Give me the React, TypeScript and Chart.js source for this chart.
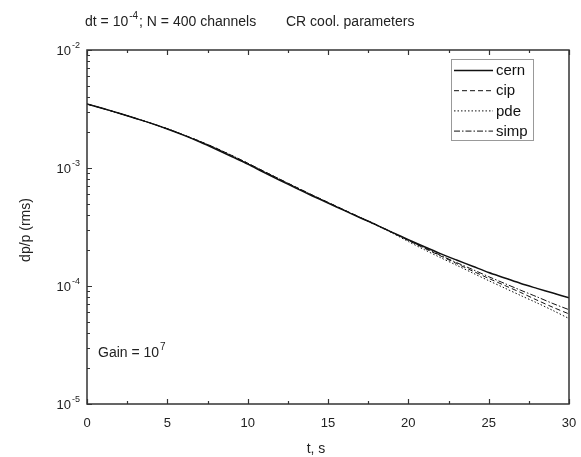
import React, { useEffect, useRef } from 'react';
import { Chart, registerables } from 'chart.js';

Chart.register(...registerables);

const times = [0, 1, 2, 3, 4, 5, 6, 7, 8, 9, 10, 11, 12, 13, 14, 15, 16, 17, 18, 19, 20, 21, 22, 23, 24, 25, 26, 27, 28, 29, 30];
const cern = [3.48e-3, 3.19e-3, 2.91e-3, 2.64e-3, 2.39e-3, 2.14e-3, 1.90e-3, 1.67e-3, 1.45e-3, 1.25e-3, 1.08e-3, 9.20e-4, 7.87e-4, 6.76e-4, 5.82e-4, 5.04e-4, 4.37e-4, 3.79e-4, 3.30e-4, 2.85e-4, 2.47e-4, 2.15e-4, 1.88e-4, 1.66e-4, 1.47e-4, 1.30e-4, 1.17e-4, 1.05e-4, 9.55e-5, 8.71e-5, 7.94e-5];
const cip = [3.48e-3, 3.19e-3, 2.91e-3, 2.64e-3, 2.39e-3, 2.15e-3, 1.91e-3, 1.69e-3, 1.48e-3, 1.28e-3, 1.10e-3, 9.40e-4, 8.05e-4, 6.90e-4, 5.93e-4, 5.12e-4, 4.42e-4, 3.82e-4, 3.30e-4, 2.84e-4, 2.43e-4, 2.09e-4, 1.80e-4, 1.55e-4, 1.34e-4, 1.16e-4, 1.01e-4, 8.8e-5, 7.6e-5, 6.6e-5, 5.8e-5];
const pde = [3.48e-3, 3.19e-3, 2.91e-3, 2.64e-3, 2.39e-3, 2.15e-3, 1.91e-3, 1.69e-3, 1.48e-3, 1.28e-3, 1.10e-3, 9.38e-4, 8.03e-4, 6.88e-4, 5.91e-4, 5.10e-4, 4.40e-4, 3.80e-4, 3.28e-4, 2.81e-4, 2.38e-4, 2.03e-4, 1.74e-4, 1.50e-4, 1.29e-4, 1.11e-4, 9.6e-5, 8.3e-5, 7.2e-5, 6.2e-5, 5.3e-5];
const simp = [3.48e-3, 3.19e-3, 2.91e-3, 2.64e-3, 2.39e-3, 2.15e-3, 1.91e-3, 1.68e-3, 1.47e-3, 1.27e-3, 1.09e-3, 9.35e-4, 8.0e-4, 6.86e-4, 5.9e-4, 5.1e-4, 4.4e-4, 3.81e-4, 3.30e-4, 2.85e-4, 2.44e-4, 2.11e-4, 1.82e-4, 1.58e-4, 1.38e-4, 1.20e-4, 1.05e-4, 9.2e-5, 8.1e-5, 7.1e-5, 6.3e-5];

const seriesNames = ['cern', 'cip', 'pde', 'simp'];
const xMajorTicks = [0, 5, 10, 15, 20, 25, 30];
const xMinorTicks = [2.5, 7.5, 12.5, 17.5, 22.5, 27.5];
const yDecadeExponents = [-2, -3, -4, -5];
const titleParts = { base: 'dt = 10', sup: '-4', rest: '; N = 400 channels' };
const titleRight = 'CR cool. parameters';
const gainParts = { base: 'Gain = 10', sup: '7' };
const yAxisTitle = 'dp/p (rms)';
const xAxisTitle = 't, s';

const FONT = '"Liberation Sans", Arial, sans-serif';
const INK = '#222';

const dashes: Record<string, number[]> = {
  cern: [],
  cip: [5, 3],
  pde: [1.5, 2],
  simp: [6, 2, 1.5, 2],
};
const widths: Record<string, number> = { cern: 1.5, cip: 1, pde: 1, simp: 1 };

function drawSup(ctx: CanvasRenderingContext2D, x: number, y: number, base: string, sup: string, size: number, align: 'left' | 'right') {
  ctx.textBaseline = 'middle';
  const ss = Math.round(size * 0.68);
  ctx.font = `${size}px ${FONT}`;
  const wb = ctx.measureText(base).width;
  ctx.font = `${ss}px ${FONT}`;
  const ws = ctx.measureText(sup).width;
  const x0 = align === 'left' ? x : x - wb - ws - 1;
  ctx.textAlign = 'left';
  ctx.font = `${size}px ${FONT}`;
  ctx.fillText(base, x0, y);
  ctx.font = `${ss}px ${FONT}`;
  ctx.fillText(sup, x0 + wb + 1, y - size * 0.42);
  return x0 + wb + 1 + ws;
}

const decorPlugin = {
  id: 'decor',
  afterDraw(chart: any) {
    const ctx = chart.ctx as CanvasRenderingContext2D;
    const { left, right, top, bottom } = chart.chartArea;
    const xs = chart.scales.x;
    const ys = chart.scales.y;
    const yMax = ys.max;
    ctx.save();
    ctx.strokeStyle = '#333';
    ctx.lineWidth = 1.5;
    ctx.setLineDash([]);
    ctx.strokeRect(left, top, right - left, bottom - top);
    ctx.lineWidth = 1.2;
    ctx.beginPath();
    for (const v of xMajorTicks) {
      const px = Math.round(xs.getPixelForValue(v)) + 0.5;
      ctx.moveTo(px, bottom); ctx.lineTo(px, bottom - 5);
      ctx.moveTo(px, top); ctx.lineTo(px, top + 5);
    }
    for (const v of xMinorTicks) {
      const px = Math.round(xs.getPixelForValue(v)) + 0.5;
      ctx.moveTo(px, bottom); ctx.lineTo(px, bottom - 3);
      ctx.moveTo(px, top); ctx.lineTo(px, top + 3);
    }
    for (const e of yDecadeExponents) {
      const py = Math.round(ys.getPixelForValue(Math.pow(10, e))) + 0.5;
      ctx.moveTo(left, py); ctx.lineTo(left + 5, py);
      for (let m = 2; m <= 9; m++) {
        const val = m * Math.pow(10, e);
        if (val >= yMax) continue;
        const pm = Math.round(ys.getPixelForValue(val)) + 0.5;
        ctx.moveTo(left, pm); ctx.lineTo(left + 3, pm);
      }
    }
    ctx.stroke();

    ctx.fillStyle = INK;
    for (const e of yDecadeExponents) {
      const py = ys.getPixelForValue(Math.pow(10, e));
      drawSup(ctx, left - 7, py + 1, '10', String(e), 13, 'right');
    }
    ctx.font = `13px ${FONT}`;
    ctx.textAlign = 'center';
    ctx.textBaseline = 'middle';
    for (const v of xMajorTicks) {
      ctx.fillText(String(v), xs.getPixelForValue(v), bottom + 19);
    }
    ctx.font = `14px ${FONT}`;
    ctx.fillText(xAxisTitle, 316, 449);
    ctx.save();
    ctx.translate(26, 230);
    ctx.rotate(-Math.PI / 2);
    ctx.fillText(yAxisTitle, 0, 0);
    ctx.restore();

    const endX = drawSup(ctx, 85, 22, titleParts.base, titleParts.sup, 14, 'left');
    ctx.font = `14px ${FONT}`;
    ctx.textAlign = 'left';
    ctx.fillText(titleParts.rest, endX + 1, 22);
    ctx.fillText(titleRight, 286, 22);

    drawSup(ctx, 98, 353, gainParts.base, gainParts.sup, 14, 'left');

    const lx = 451.5, ly = 59.5, lw = 82, lh = 81;
    ctx.fillStyle = '#fff';
    ctx.fillRect(lx, ly, lw, lh);
    ctx.strokeStyle = '#999';
    ctx.lineWidth = 1;
    ctx.strokeRect(lx, ly, lw, lh);
    seriesNames.forEach((name, i) => {
      const y = 70.5 + i * 20.2;
      ctx.strokeStyle = '#111';
      ctx.lineWidth = widths[name];
      ctx.setLineDash(dashes[name]);
      ctx.beginPath();
      ctx.moveTo(454, y);
      ctx.lineTo(493, y);
      ctx.stroke();
      ctx.setLineDash([]);
      ctx.fillStyle = '#111';
      ctx.font = `15px ${FONT}`;
      ctx.textAlign = 'left';
      ctx.textBaseline = 'middle';
      ctx.fillText(name, 496, y + 0.5);
    });
    ctx.restore();
  },
};

export default function App() {
  const ref = useRef<HTMLCanvasElement | null>(null);
  useEffect(() => {
    document.body.style.margin = '0';
    const seriesData: Record<string, number[]> = { cern, cip, pde, simp };
    const chart = new Chart(ref.current as HTMLCanvasElement, {
      type: 'line',
      data: {
        datasets: seriesNames.map((name) => ({
          label: name,
          data: times.map((t, i) => ({ x: t, y: seriesData[name][i] })),
          borderColor: '#111',
          borderWidth: widths[name],
          borderDash: dashes[name],
          pointRadius: 0,
          tension: 0.3,
          fill: false,
        })),
      },
      options: {
        animation: false,
        responsive: false,
        devicePixelRatio: 1,
        layout: { padding: { top: 50, right: 12, left: 0, bottom: 0 } },
        plugins: { legend: { display: false }, tooltip: { enabled: false }, title: { display: false } },
        scales: {
          x: {
            type: 'linear',
            min: 0,
            max: 30,
            grid: { display: false },
            border: { display: false },
            ticks: { display: false, stepSize: 5 },
            afterFit: (s: any) => { s.height = 53; },
          },
          y: {
            type: 'logarithmic',
            min: 1e-5,
            max: 1e-2,
            grid: { display: false },
            border: { display: false },
            ticks: { display: false },
            afterFit: (s: any) => { s.width = 87; },
          },
        },
      } as any,
      plugins: [decorPlugin],
    });
    return () => chart.destroy();
  }, []);
  return (
    <div style={{ position: 'fixed', left: 0, top: 0, width: 581, height: 457, background: '#fff' }}>
      <canvas ref={ref} width={581} height={457} />
    </div>
  );
}
